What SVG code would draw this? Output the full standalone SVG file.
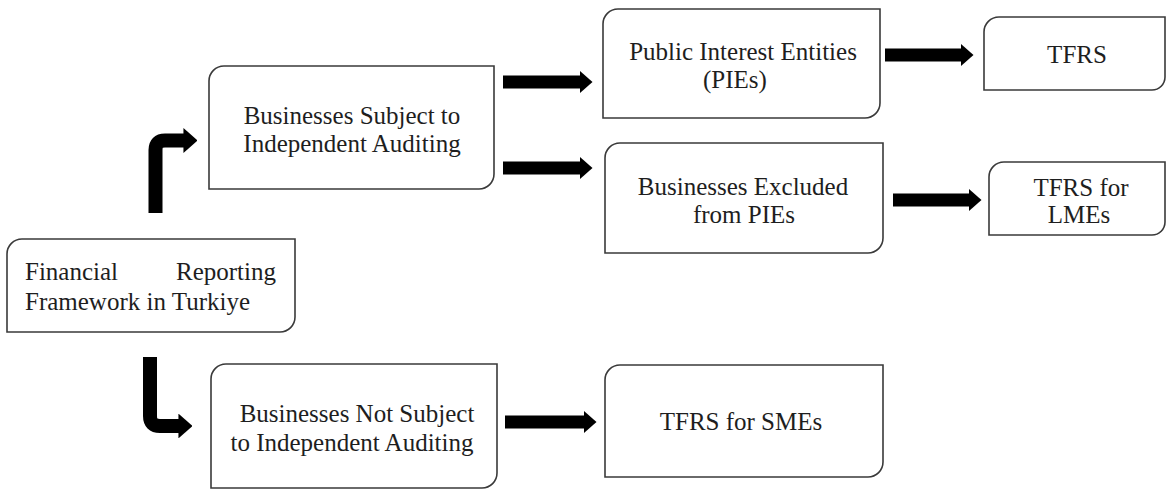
<svg xmlns="http://www.w3.org/2000/svg" width="1167" height="491" viewBox="0 0 1167 491">
<style>
.box{fill:#fff;stroke:#3a3a3a;stroke-width:1.6}
.t{font-family:"Liberation Serif","Times New Roman",serif;font-size:25px;fill:#1e1e1e}
.m{text-anchor:middle}
.arr{fill:none;stroke:#000;stroke-width:13;marker-end:url(#head)}
.bent{fill:none;stroke:#000;stroke-width:14;marker-end:url(#head)}
</style>
<defs>
<marker id="head" viewBox="0 0 13 23" markerWidth="1" markerHeight="1.77" refX="0.5" refY="11.5" orient="auto" markerUnits="strokeWidth">
<path d="M0,0 L13,11.5 L0,23 Z" fill="#000"/>
</marker>
</defs>
<rect width="1167" height="491" fill="#fff"/>
<g id="connectors">
<path class="bent" d="M155.5,213 V150 Q155.5,140.5 165,140.5 H184"/>
<path class="bent" d="M150,357 V416 Q150,426 160,426 H179"/>
<path class="arr" d="M503,82 H580"/>
<path class="arr" d="M503,168 H580"/>
<path class="arr" d="M885,55 H961"/>
<path class="arr" d="M893,200 H969"/>
<path class="arr" d="M505,422 H584"/>
</g>
<g id="financial">
<path class="box" d="M22,239 H295 V317 A15,15 0 0 1 280,332 H7 V254 A15,15 0 0 1 22,239 Z"/>
<text class="t" x="25" y="280">Financial</text>
<text class="t" x="276" y="280" text-anchor="end">Reporting</text>
<text class="t" x="25" y="310">Framework in Turkiye</text>
</g>
<g id="subject">
<path class="box" d="M224,66 H494 V174 A15,15 0 0 1 479,189 H209 V81 A15,15 0 0 1 224,66 Z"/>
<text class="t m" x="352" y="124">Businesses Subject to</text>
<text class="t m" x="352" y="152">Independent Auditing</text>
</g>
<g id="pies">
<path class="box" d="M618,9 H880 V103 A15,15 0 0 1 865,118 H603 V24 A15,15 0 0 1 618,9 Z"/>
<text class="t m" x="743" y="60">Public Interest Entities</text>
<text class="t m" x="735" y="88">(PIEs)</text>
</g>
<g id="tfrs">
<path class="box" d="M999,17 H1165 V77 A13,13 0 0 1 1152,90 H984 V32 A15,15 0 0 1 999,17 Z"/>
<text class="t m" x="1077" y="63">TFRS</text>
</g>
<g id="excluded">
<path class="box" d="M620,143 H883 V238 A15,15 0 0 1 868,253 H605 V158 A15,15 0 0 1 620,143 Z"/>
<text class="t m" x="743" y="195">Businesses Excluded</text>
<text class="t m" x="744" y="223">from PIEs</text>
</g>
<g id="lmes">
<path class="box" d="M1004,162 H1165 V222 A13,13 0 0 1 1152,235 H989 V177 A15,15 0 0 1 1004,162 Z"/>
<text class="t m" x="1081" y="196">TFRS for</text>
<text class="t m" x="1079" y="223">LMEs</text>
</g>
<g id="notsubject">
<path class="box" d="M226,364 H497 V473 A15,15 0 0 1 482,488 H211 V379 A15,15 0 0 1 226,364 Z"/>
<text class="t m" x="357" y="422">Businesses Not Subject</text>
<text class="t m" x="352" y="451">to Independent Auditing</text>
</g>
<g id="smes">
<path class="box" d="M620,365 H883 V462 A15,15 0 0 1 868,477 H605 V380 A15,15 0 0 1 620,365 Z"/>
<text class="t m" x="741" y="430">TFRS for SMEs</text>
</g>
</svg>
